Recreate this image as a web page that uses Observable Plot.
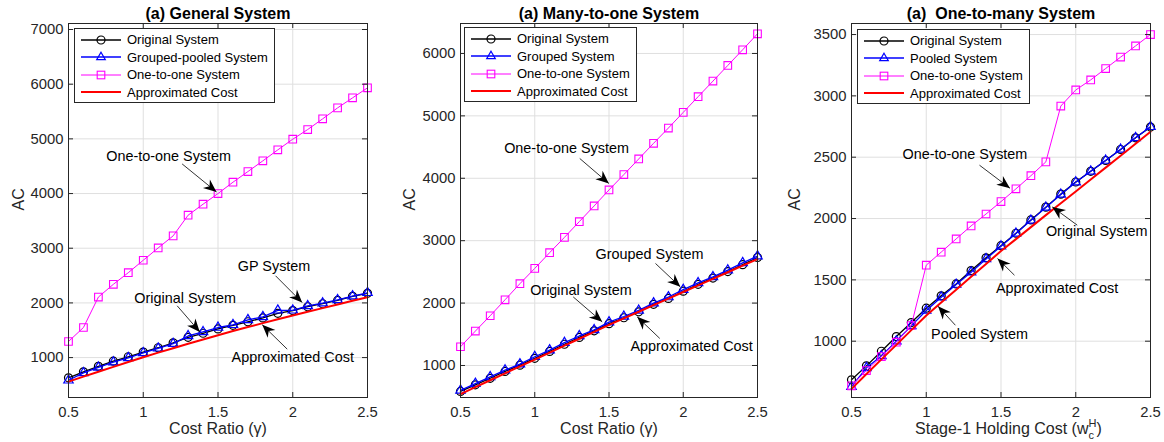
<!DOCTYPE html>
<html><head><meta charset="utf-8">
<script src="https://cdn.jsdelivr.net/npm/d3@7"></script>
<script src="https://cdn.jsdelivr.net/npm/@observablehq/plot@0.6"></script>
<style>
body{margin:0;background:#fff;font-family:"Liberation Sans",Arial,Helvetica,sans-serif;}
#row{display:flex;width:1164px;height:442px;}
.panel{position:relative;flex:none;}
.legend{position:absolute;background:#fff;border:1px solid #262626;padding:2px 6px 1px 6px;font-size:13px;color:#000;}
.legend .r{display:flex;align-items:center;height:17.5px;white-space:nowrap;}
.legend svg{margin-right:6px;flex:none;}
</style></head><body><div id="row"></div>
<script>
// ---------- data ----------
const xVals = [0.5,0.6,0.7,0.8,0.9,1.0,1.1,1.2,1.3,1.4,1.5,1.6,1.7,1.8,1.9,2.0,2.1,2.2,2.3,2.4,2.5];
const xTicks = [0.5,1,1.5,2,2.5];

const genOriginal = [630,740,840,935,1015,1100,1180,1270,1370,1445,1525,1590,1655,1725,1810,1860,1930,1985,2045,2120,2175];
const genGrouped  = [585,720,820,915,995,1085,1170,1255,1395,1470,1550,1600,1690,1745,1865,1865,1945,1995,2055,2125,2185];
const genOneToOne = [1294,1550,2107,2340,2553,2780,3006,3226,3604,3805,4000,4207,4402,4598,4799,4994,5171,5366,5567,5750,5933];
const genApprox   = [560,652,742,830,918,1005,1090,1172,1252,1332,1410,1485,1558,1630,1700,1770,1838,1905,1972,2038,2105];

const m2oOriginal = [585,690,795,905,1005,1115,1225,1340,1450,1555,1670,1765,1860,1980,2075,2190,2300,2400,2505,2615,2730];
const m2oGrouped  = [602,710,817,925,1022,1140,1247,1366,1473,1570,1695,1785,1882,2000,2097,2215,2323,2419,2527,2645,2753];
const m2oOneToOne = [1300,1551,1797,2053,2310,2556,2807,3053,3305,3557,3813,4059,4309,4560,4805,5056,5307,5557,5808,6059,6315];
const m2oApprox   = [540,652,763,874,985,1095,1206,1317,1428,1539,1650,1756,1861,1967,2072,2178,2283,2388,2494,2600,2705];

const o2mOriginal = [685,799,918,1038,1152,1269,1370,1467,1576,1680,1779,1880,1989,2093,2199,2298,2385,2473,2563,2658,2746];
const o2mPooled   = [630,783,880,1000,1125,1250,1359,1462,1562,1670,1775,1878,1985,2090,2196,2296,2385,2473,2563,2658,2748];
const o2mOneToOne = [636,761,875,992,1128,1620,1726,1834,1940,2037,2138,2242,2349,2462,2917,3048,3130,3223,3316,3407,3500];
const o2mApprox   = [611,732,852,970,1090,1209,1315,1420,1525,1630,1735,1832,1930,2028,2125,2221,2318,2415,2512,2610,2708];

const yTicksGen = [1000,2000,3000,4000,5000,6000,7000];
const yTicksM2o = [1000,2000,3000,4000,5000,6000];
const yTicksO2m = [1000,1500,2000,2500,3000,3500];

const legendGen = ["Original System","Grouped-pooled System","One-to-one System","Approximated Cost"];
const legendM2o = ["Original System","Grouped System","One-to-one System","Approximated Cost"];
const legendO2m = ["Original System","Pooled System","One-to-one System","Approximated Cost"];

const notesGen = [
  {label:"One-to-one System", tx:1.17, ty:4676, x1:1.26, y1:4542, x2:1.49, y2:4030},
  {label:"GP System", tx:1.875, ty:2667, x1:1.885, y1:2496, x2:2.063, y2:2007},
  {label:"Original System", tx:1.28, ty:2075, x1:1.227, y1:1947, x2:1.378, y2:1470},
  {label:"Approximated Cost", tx:2.0, ty:1000, x1:1.963, y1:1154, x2:1.796, y2:1600}
];
const notesM2o = [
  {label:"One-to-one System", tx:1.214, ty:4482, x1:1.303, y1:4317, x2:1.499, y2:3917},
  {label:"Grouped System", tx:1.773, ty:2784, x1:1.813, y1:2635, x2:1.98, y2:2260},
  {label:"Original System", tx:1.311, ty:2196, x1:1.259, y1:2099, x2:1.454, y2:1699},
  {label:"Approximated Cost", tx:2.056, ty:1309, x1:1.842, y1:1433, x2:1.69, y2:1779}
];
const notesO2m = [
  {label:"One-to-one System", tx:1.259, ty:2524, x1:1.356, y1:2435, x2:1.56, y2:2247},
  {label:"Original System", tx:2.14, ty:1897, x1:2.01, y1:1946, x2:1.843, y2:2095},
  {label:"Approximated Cost", tx:1.875, ty:1432, x1:1.59, y1:1538, x2:1.477, y2:1674},
  {label:"Pooled System", tx:1.356, ty:1057, x1:1.195, y1:1130, x2:1.079, y2:1285}
];

// ---------- layout ----------
const H = 442, MT = 23, MB = 45;
const panels = [
  {title:"(a) General System", xLabel:"Cost Ratio (γ)", yLabel:"AC", names:legendGen,
   series:[genOriginal,genGrouped,genOneToOne,genApprox], yDomain:[270,7110], yTicks:yTicksGen,
   width:390, ml:68, mr:23, ylDx:-50, legend:{left:74, top:28}, notes:notesGen},
  {title:"(a) Many-to-one System", xLabel:"Cost Ratio (γ)", yLabel:"AC", names:legendM2o,
   series:[m2oOriginal,m2oGrouped,m2oOneToOne,m2oApprox], yDomain:[487,6480], yTicks:yTicksM2o,
   width:384, ml:70, mr:17, ylDx:-51, legend:{left:74, top:27}, notes:notesM2o},
  {title:"(a)  One-to-many System", xLabel:null, yLabel:"AC", names:legendO2m,
   series:[o2mOriginal,o2mPooled,o2mOneToOne,o2mApprox], yDomain:[541,3590], yTicks:yTicksO2m,
   width:390, ml:77, mr:14, ylDx:-57, legend:{left:83, top:29}, notes:notesO2m}
];

const headSymbol = {draw(ctx){ ctx.moveTo(0,0); ctx.lineTo(-13,-5.5); ctx.lineTo(-9,0); ctx.lineTo(-13,5.5); ctx.closePath(); }};
const C_ORIG = "#000000", C_GRP = "#0000ff", C_ONE = "#ff00ff", C_APP = "#ff0000";

function rows(arr){ return xVals.map((x,i)=>({x, y:arr[i]})); }

function build(p, heads){
  const [orig, grp, one, appr] = p.series.map(rows);
  const plotW = p.width - p.ml - p.mr, plotH = H - MT - MB;
  return Plot.plot({
    width:p.width, height:H, marginLeft:p.ml, marginRight:p.mr, marginTop:MT, marginBottom:MB,
    x:{domain:[0.5,2.5], label:null}, y:{domain:p.yDomain, label:null},
    style:{fontFamily:"'Liberation Sans', Arial, Helvetica, sans-serif", fontSize:"14.8px", color:"#262626", background:"transparent", overflow:"visible"},
    marks:[
      Plot.gridX(xTicks, {stroke:"#dfdfdf", strokeOpacity:1}),
      Plot.gridY(p.yTicks, {stroke:"#dfdfdf", strokeOpacity:1}),
      Plot.line(orig, {x:"x", y:"y", stroke:C_ORIG, strokeWidth:1.3}),
      Plot.dot(orig, {x:"x", y:"y", r:4, stroke:C_ORIG, strokeWidth:1.2, fill:"none"}),
      Plot.line(grp, {x:"x", y:"y", stroke:C_GRP, strokeWidth:1.3}),
      Plot.dot(grp, {x:"x", y:"y", symbol:"triangle", r:3.5, stroke:C_GRP, strokeWidth:1.2, fill:"none"}),
      Plot.line(one, {x:"x", y:"y", stroke:C_ONE, strokeWidth:1}),
      Plot.dot(one, {x:"x", y:"y", symbol:"square", r:4.3, stroke:C_ONE, strokeWidth:1.1, fill:"none"}),
      Plot.line(appr, {x:"x", y:"y", stroke:C_APP, strokeWidth:2}),
      Plot.frame({stroke:"#262626", strokeWidth:1}),
      Plot.ruleX(xTicks, {stroke:"#262626", insetTop:plotH-5}),
      Plot.ruleX(xTicks, {stroke:"#262626", insetBottom:plotH-5}),
      Plot.ruleY(p.yTicks, {stroke:"#262626", insetRight:plotW-5}),
      Plot.ruleY(p.yTicks, {stroke:"#262626", insetLeft:plotW-5}),
      Plot.axisX(xTicks, {tickSize:0, tickPadding:9, tickFormat:d=>String(d), label:null}),
      Plot.axisY(p.yTicks, {tickSize:0, tickPadding:5, tickFormat:d=>String(d), label:null}),
      Plot.link(p.notes, {x1:"x1", y1:"y1", x2:"x2", y2:"y2", stroke:"black", strokeWidth:0.8}),
      heads ? Plot.dot(p.notes, {x:"x2", y:"y2", symbol:headSymbol, rotate:heads, fill:"black", stroke:"none"}) : null,
      Plot.text(p.notes, {x:"tx", y:"ty", text:"label", fontSize:14.4, fill:"black"}),
      Plot.text([p.title], {frameAnchor:"top", dy:-10, lineAnchor:"middle", fontSize:16, fontWeight:"bold", fill:"black"}),
      Plot.text([p.yLabel], {frameAnchor:"left", dx:p.ylDx, lineAnchor:"middle", rotate:-90, fontSize:16, fill:"#262626"}),
      p.xLabel ? Plot.text([p.xLabel], {frameAnchor:"bottom", dy:31, lineAnchor:"middle", fontSize:16, fill:"#262626"}) : null
    ]
  });
}

function sampleSvg(i){
  const colors = [C_ORIG, C_GRP, C_ONE, C_APP];
  const widths = [1.3, 1.3, 1, 2];
  let m = "";
  if (i===0) m = `<circle cx="20" cy="7" r="4" fill="none" stroke="${colors[0]}" stroke-width="1.2"/>`;
  if (i===1) m = `<polygon points="20,2.2 24.3,9.6 15.7,9.6" fill="none" stroke="${colors[1]}" stroke-width="1.2"/>`;
  if (i===2) m = `<rect x="16.2" y="3.2" width="7.6" height="7.6" fill="none" stroke="${colors[2]}" stroke-width="1.1"/>`;
  return `<svg width="40" height="14"><line x1="0" x2="40" y1="7" y2="7" stroke="${colors[i]}" stroke-width="${widths[i]}"/>${m}</svg>`;
}

const row = document.getElementById("row");
for (const p of panels){
  const div = document.createElement("div");
  div.className = "panel";
  div.style.width = p.width + "px";
  div.style.height = H + "px";
  const p0 = build(p, null);
  const sx = p0.scale("x"), sy = p0.scale("y");
  const heads = p.notes.map(n => Math.atan2(sy.apply(n.y2)-sy.apply(n.y1), sx.apply(n.x2)-sx.apply(n.x1))*180/Math.PI);
  const svg = build(p, heads);
  div.appendChild(svg);
  if (!p.xLabel){
    const plotW = p.width - p.ml - p.mr;
    const t = d3.select(svg).append("text")
      .attr("x", p.ml + plotW/2 + 8).attr("y", H - MB + 37)
      .attr("text-anchor","middle").attr("fill","#262626").style("font-size","16px");
    t.append("tspan").text("Stage-1 Holding Cost (w");
    t.append("tspan").attr("dy",-7).style("font-size","11px").text("H");
    t.append("tspan").attr("dx",-7.9).attr("dy",12).style("font-size","11px").text("c");
    t.append("tspan").attr("dx",2.6).attr("dy",-5).text(")");
  }
  const lg = document.createElement("div");
  lg.className = "legend";
  lg.style.left = p.legend.left + "px";
  lg.style.top = p.legend.top + "px";
  lg.innerHTML = p.names.map((n,i)=>`<div class="r">${sampleSvg(i)}<span>${n}</span></div>`).join("");
  div.appendChild(lg);
  row.appendChild(div);
}
</script>
</body></html>
